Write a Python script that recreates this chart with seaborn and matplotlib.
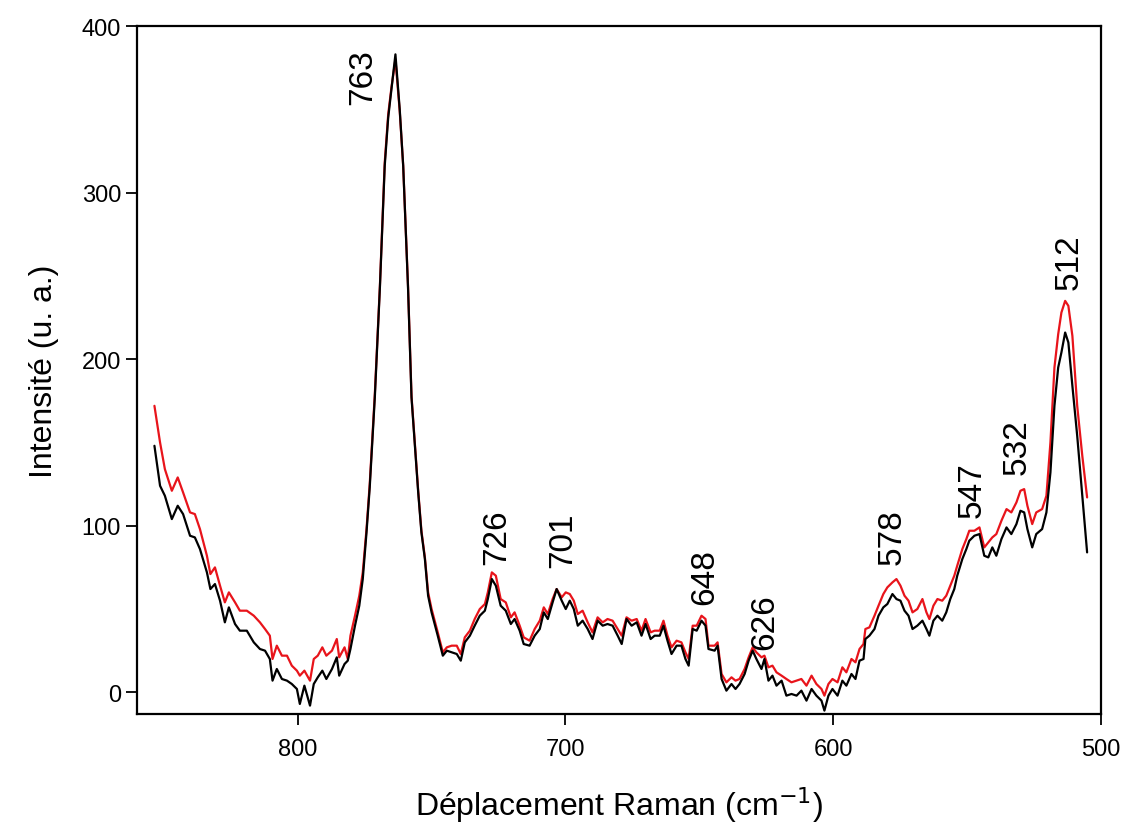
import numpy as np
import pandas as pd
import matplotlib
matplotlib.use("Agg")
import matplotlib.pyplot as plt
import seaborn as sns

# Raman shift (cm-1)
shift = [
    853.5, 851.4, 849.6, 847.0, 844.8, 842.8, 840.2, 838.4, 836.5, 833.9,
    832.6, 830.9, 829.0, 827.2, 825.7, 823.4, 821.6, 819.0, 816.4, 814.1,
    812.2, 810.4, 809.4, 807.8, 805.9, 804.0, 802.2, 800.3, 799.2, 797.5,
    795.4, 794.0, 792.5, 790.8, 789.3, 787.2, 785.4, 784.5, 782.5, 781.3,
    780.3, 778.6, 777.0, 775.7, 774.3, 773.1, 771.2, 769.3, 767.5, 766.2,
    765.0, 763.5, 761.9, 760.6, 758.8, 757.5, 755.0, 753.8, 752.5, 751.3,
    750.0, 747.7, 745.8, 744.3, 742.5, 740.6, 739.1, 737.6, 735.7, 733.9,
    732.0, 730.1, 729.0, 727.5, 726.0, 724.2, 722.3, 720.4, 719.0, 717.1,
    715.6, 713.4, 711.5, 709.6, 708.1, 706.6, 704.8, 703.3, 701.4, 699.9,
    698.4, 696.9, 695.4, 693.6, 691.7, 689.9, 688.0, 686.1, 684.3, 682.4,
    680.5, 679.0, 677.2, 675.3, 673.4, 671.6, 670.1, 668.2, 666.7, 664.8,
    663.4, 661.9, 660.4, 658.5, 656.7, 655.2, 654.0, 652.5, 651.0, 649.2,
    647.7, 646.6, 644.3, 643.2, 641.7, 639.9, 638.0, 636.5, 635.0, 633.1,
    631.6, 630.1, 628.7, 626.8, 625.7, 624.2, 622.7, 621.2, 619.3, 617.5,
    615.6, 613.7, 611.9, 610.0, 608.1, 606.3, 604.4, 603.3, 601.8, 600.3,
    598.4, 596.6, 595.1, 593.2, 591.7, 590.2, 588.7, 588.0, 586.5, 584.6,
    583.1, 581.3, 579.8, 577.9, 576.4, 574.9, 573.4, 571.9, 570.4, 568.6,
    566.7, 565.2, 564.1, 562.6, 561.1, 559.3, 557.8, 556.3, 554.8, 553.7,
    551.8, 550.3, 549.2, 547.3, 545.4, 543.6, 542.1, 540.6, 539.1, 537.2,
    535.3, 533.5, 531.6, 530.1, 528.7, 527.5, 525.7, 524.2, 522.0, 520.4,
    518.9, 517.4, 516.0, 514.8, 513.4, 512.2, 510.7, 508.9, 507.0, 505.2,
]

black_int = [
    148, 124, 118, 104, 112, 107, 94, 93, 86, 72,
    62, 65, 55, 42, 51, 41, 37, 37, 30, 26,
    25, 20, 7, 14, 8, 7, 5, 2, -7, 4,
    -8, 5, 9, 13, 8, 14, 21, 10, 17, 19,
    26, 40, 52, 68, 96, 123, 177, 243, 316, 345,
    362, 383, 350, 316, 243, 177, 120, 96, 80, 58,
    48, 34, 22, 25, 24, 23, 19, 30, 34, 40,
    46, 49, 56, 68, 64, 52, 49, 41, 44, 37,
    29, 28, 34, 38, 48, 44, 54, 62, 55, 50,
    55, 50, 40, 43, 38, 32, 43, 40, 41, 40,
    34, 29, 44, 40, 42, 34, 41, 32, 34, 34,
    40, 31, 23, 28, 28, 20, 16, 38, 37, 43,
    40, 26, 25, 28, 8, 1, 5, 2, 5, 11,
    19, 25, 20, 14, 20, 7, 10, 4, 7, -2,
    -1, -2, 1, -5, 2, -2, -5, -11, -2, 2,
    -2, 7, 4, 11, 8, 19, 20, 32, 34, 38,
    46, 51, 53, 59, 56, 55, 49, 46, 38, 40,
    43, 38, 34, 43, 46, 43, 48, 56, 62, 70,
    80, 86, 91, 94, 95, 82, 81, 87, 82, 92,
    99, 95, 101, 109, 108, 98, 87, 95, 98, 108,
    132, 172, 195, 204, 216, 210, 184, 154, 118, 84,
]

red_int = [
    172, 150, 134, 121, 129, 120, 108, 107, 98, 82,
    71, 75, 64, 54, 60, 54, 49, 49, 46, 42,
    38, 34, 20, 28, 22, 22, 16, 13, 10, 13,
    7, 20, 22, 27, 22, 25, 32, 21, 27, 20,
    34, 46, 58, 72, 98, 125, 179, 244, 318, 347,
    363, 380, 349, 316, 244, 178, 121, 97, 81, 60,
    50, 36, 24, 27, 28, 28, 23, 33, 37, 44,
    50, 53, 60, 72, 70, 56, 54, 45, 48, 40,
    33, 31, 38, 43, 51, 47, 56, 62, 57, 60,
    59, 55, 47, 49, 42, 36, 45, 42, 44, 43,
    38, 34, 45, 43, 44, 37, 44, 36, 37, 37,
    43, 34, 27, 31, 30, 24, 20, 40, 40, 46,
    44, 28, 28, 30, 11, 6, 9, 7, 8, 14,
    21, 27, 24, 21, 22, 15, 16, 12, 10, 8,
    6, 7, 8, 4, 10, 5, 2, -2, 5, 8,
    6, 15, 12, 20, 18, 26, 29, 38, 39, 46,
    52, 59, 63, 66, 68, 64, 58, 55, 48, 50,
    56, 48, 44, 52, 56, 55, 58, 64, 70, 76,
    86, 92, 97, 97, 99, 87, 90, 93, 95, 103,
    110, 108, 114, 121, 122, 112, 101, 108, 110, 118,
    150, 195, 215, 228, 235, 232, 214, 172, 142, 117,
]

# peak labels and where they sit
peak_labels = ["763", "726", "701", "648", "626", "578", "547", "532", "512"]
label_x = [775.7, 725.7, 701.0, 648.0, 625.7, 578.0, 548.0, 531.3, 511.9]
label_y = [353, 77, 75, 53, 26, 77, 105, 131, 242]

df = pd.DataFrame({
    "shift": shift * 2,
    "intensity": red_int + black_int,
    "sample": ["red"] * len(shift) + ["black"] * len(shift),
})

sns.set_theme(style="ticks")
plt.rcParams["font.family"] = ["Liberation Sans", "DejaVu Sans"]
plt.rcParams["text.color"] = "black"
plt.rcParams["axes.labelcolor"] = "black"

fig = plt.figure(figsize=(11.25, 8.37), dpi=100)
ax = fig.add_axes([0.1218, 0.1458, 0.8569, 0.8219])

sns.lineplot(data=df, x="shift", y="intensity", hue="sample",
             palette={"red": "#e8141b", "black": "black"},
             hue_order=["red", "black"], estimator=None, sort=False,
             linewidth=1.6, legend=False, ax=ax)

for lab, lx, ly in zip(peak_labels, label_x, label_y):
    ax.text(lx, ly, lab, rotation=90, ha="center", va="bottom",
            fontsize=24, color="black")

ax.set_xlim(860, 500)
ax.set_ylim(-13, 400)
ax.set_xticks([800, 700, 600, 500])
ax.set_yticks([0, 100, 200, 300, 400])
ax.tick_params(axis="both", direction="out", length=8, width=1.3,
               labelsize=17, colors="black", top=False, right=False)
ax.tick_params(axis="x", pad=9)
for sp in ax.spines.values():
    sp.set_visible(True)
    sp.set_linewidth(1.6)
    sp.set_color("black")

ax.set_xlabel("Déplacement Raman (cm$^{-1}$)", fontsize=23, labelpad=18)
ax.set_ylabel("Intensité (u. a.)", fontsize=23, labelpad=16)

fig.savefig("out.png", dpi=100)
